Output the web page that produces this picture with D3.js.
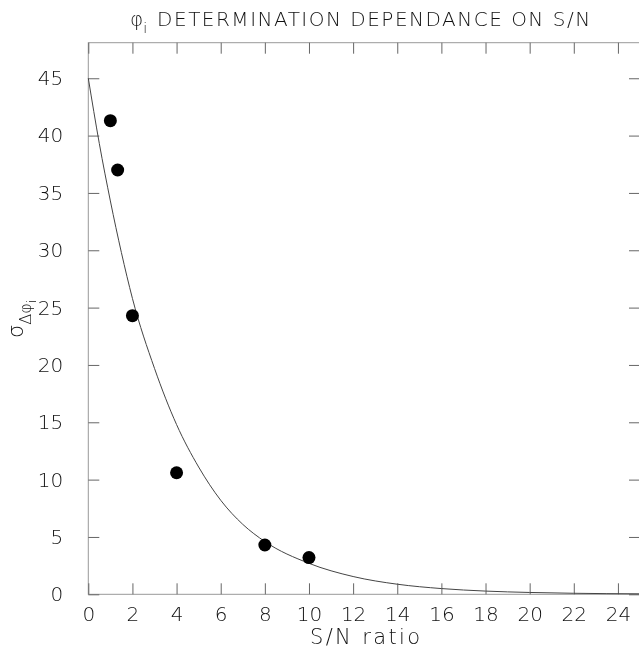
<!DOCTYPE html>
<html>
<head>
<meta charset="utf-8">
<script src="https://cdn.jsdelivr.net/npm/d3@7"></script>
<style>
  body { margin: 0; background: #fff; }
  svg { will-change: transform; }
  text { font-family: "DejaVu Sans", sans-serif; font-weight: 200; fill: #111; }
</style>
</head>
<body>
<svg id="chart" width="639" height="652"></svg>
<script>
// measured points (S/N ratio vs sigma)
var snPoints = [1, 1.33, 2, 4, 8, 10];
var sigmaPoints = [41.3, 37.0, 24.3, 10.6, 4.3, 3.2];

// fitted curve
var curveX = [0, 0.5, 1, 1.5, 2, 3, 4, 5, 6, 7, 8, 10, 12, 14, 16, 18, 20, 22, 25];
var curveY = [45, 39.3, 34.3, 29.8, 25.8, 19.7, 14.8, 11.1, 8.2, 6.1, 4.6, 2.7, 1.55, 0.88, 0.5, 0.28, 0.16, 0.09, 0.04];

var xTicks = d3.range(0, 25, 2);
var yTicks = d3.range(0, 46, 5);

function drawChart() {
    var svg = d3.select("#chart");
    var plotL = 88.3, plotR = 640, plotT = 42.7, plotB = 594.3;

    var x = d3.scaleLinear().domain([0, 25]).range([plotL, plotR]);
    var y = d3.scaleLinear().domain([0, 48.1]).range([plotB, plotT]);

    // frame
    svg.append("rect")
        .attr("x", plotL).attr("y", plotT)
        .attr("width", plotR - plotL).attr("height", plotB - plotT)
        .attr("fill", "none").attr("stroke", "#999").attr("stroke-width", 1);

    // ticks on all four sides, pointing inward
    var tl = 11;
    var gB = svg.append("g").attr("transform", "translate(0," + plotB + ")")
        .call(d3.axisBottom(x).tickValues(xTicks).tickSizeInner(-tl).tickSizeOuter(0).tickPadding(13));
    var gT = svg.append("g").attr("transform", "translate(0," + plotT + ")")
        .call(d3.axisTop(x).tickValues(xTicks).tickSizeInner(-tl).tickSizeOuter(0).tickFormat(""));
    var gL = svg.append("g").attr("transform", "translate(" + plotL + ",0)")
        .call(d3.axisLeft(y).tickValues(yTicks).tickSizeInner(-tl).tickSizeOuter(0).tickPadding(25));
    var gR = svg.append("g").attr("transform", "translate(" + plotR + ",0)")
        .call(d3.axisRight(y).tickValues(yTicks).tickSizeInner(-tl).tickSizeOuter(0).tickFormat(""));

    [gB, gT, gL, gR].forEach(function (g) {
        g.select(".domain").remove();
        g.selectAll("line").attr("stroke", "#666");
        g.selectAll("text").style("font-family", "DejaVu Sans").style("font-weight", 200)
            .style("font-size", "20px").attr("fill", "#111");
    });

    // curve
    var line = d3.line()
        .x(function (d, i) { return x(curveX[i]); })
        .y(function (d) { return y(d); })
        .curve(d3.curveMonotoneX);
    svg.append("path").datum(curveY)
        .attr("d", line)
        .attr("fill", "none").attr("stroke", "#444").attr("stroke-width", 1);

    // data points
    svg.selectAll("circle.pt").data(snPoints).enter().append("circle")
        .attr("class", "pt")
        .attr("cx", function (d) { return x(d); })
        .attr("cy", function (d, i) { return y(sigmaPoints[i]); })
        .attr("r", 6.5)
        .attr("fill", "#000");

    // title
    var title = svg.append("text").attr("x", 130).attr("y", 26).style("font-size", "20px");
    title.append("tspan").text("φ");
    title.append("tspan").attr("dy", 7).style("font-size", "14px").text("i");
    title.append("tspan").attr("dy", -7).attr("dx", 10).text("DETERMINATION DEPENDANCE ON S/N")
        .attr("textLength", 433).attr("lengthAdjust", "spacing");

    // x label
    svg.append("text").attr("x", 365).attr("y", 644)
        .attr("text-anchor", "middle").style("font-size", "21px")
        .attr("textLength", 110).attr("lengthAdjust", "spacing")
        .text("S/N ratio");

    // y label
    var yl = svg.append("text").attr("transform", "translate(23,338) rotate(-90)").style("font-size", "21px");
    yl.append("tspan").text("σ");
    yl.append("tspan").attr("dy", 8).style("font-size", "16px").text("Δφ");
    yl.append("tspan").attr("dy", 5).style("font-size", "12px").text("i");
}

drawChart();
</script>
</body>
</html>
